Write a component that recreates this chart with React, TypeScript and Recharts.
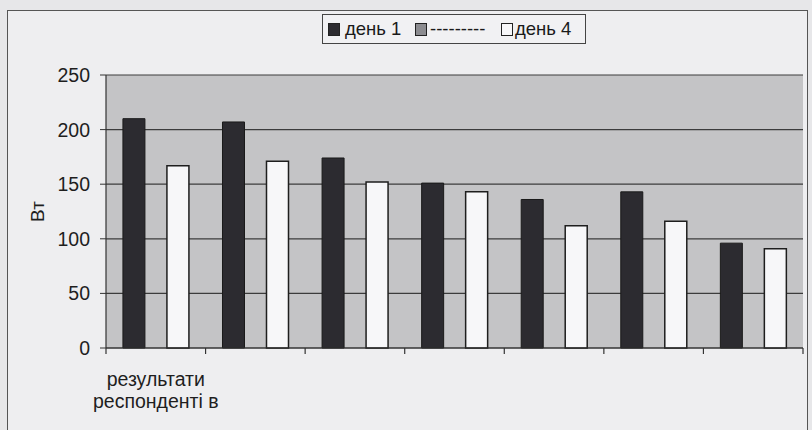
import React from "react";
import { BarChart, Bar, XAxis, YAxis, CartesianGrid } from "recharts";

const categories = ["результати\nреспонденті в", "", "", "", "", "", ""];
const day1 = [210, 207, 174, 151, 136, 143, 96];
const day2 = [null, null, null, null, null, null, null];
const day4 = [167, 171, 152, 143, 112, 116, 91];
const yTicks = [0, 50, 100, 150, 200, 250];
const seriesNames = ["день 1", "---------", "день 4"];
const boundaryTicks = [0, 0.5, 1, 1.5, 2, 2.5, 3, 3.5, 4, 4.5, 5, 5.5, 6, 6.5, 7];

const data = categories.map((c, i) => ({ cat: c, idx: i, d1: day1[i], d2: day2[i], d4: day4[i] }));

const FONT = "'Liberation Sans', Arial, sans-serif";

const BoundaryTick = (props: any) => {
  const { x, y, payload } = props;
  const v = payload.value as number;
  if (Number.isInteger(v)) {
    return <line x1={x} x2={x} y1={y} y2={y + 6} stroke="#333" strokeWidth={1.2} />;
  }
  const label = categories[Math.floor(v)] || "";
  if (!label) return <g />;
  const lines = label.split("\n");
  return (
    <text x={x} y={y} textAnchor="middle" fontSize={19.5} fontFamily={FONT} fill="#1e1e1e">
      {lines.map((l, i) => (
        <tspan key={i} x={x} dy={i === 0 ? 38 : 22}>
          {l}
        </tspan>
      ))}
    </text>
  );
};

const Legendish = () => {
  const items = [
    { sq: 5, tx: 22, fill: "#2c2b30" },
    { sq: 92, tx: 107, fill: "#8c8c90" },
    { sq: 178, tx: 192, fill: "#f7f7f9" },
  ];
  return (
    <div
      style={{
        position: "absolute",
        left: 322,
        top: 14,
        width: 264,
        height: 30,
        border: "1px solid #444",
        background: "#f1f1f3",
        boxSizing: "border-box",
        fontFamily: FONT,
        fontSize: 18.5,
        color: "#1a1a1a",
      }}
    >
      {items.map((it, i) => (
        <React.Fragment key={i}>
          <div
            style={{
              position: "absolute",
              left: it.sq,
              top: 8,
              width: 12,
              height: 13,
              background: it.fill,
              border: "1px solid #222",
              boxSizing: "border-box",
            }}
          />
          <div style={{ position: "absolute", left: it.tx, top: 3, lineHeight: "22px", whiteSpace: "nowrap" }}>
            {seriesNames[i]}
          </div>
        </React.Fragment>
      ))}
    </div>
  );
};

export default function App() {
  return (
    <div style={{ position: "absolute", left: 0, top: 0, width: 812, height: 430, background: "#e7e7e9", overflow: "hidden" }}>
      <div
        style={{
          position: "absolute",
          left: 7,
          top: 10,
          width: 801,
          height: 440,
          borderLeft: "1.5px solid #555",
          borderTop: "1.5px solid #555",
          borderRight: "1.5px solid #555",
          background: "#eeeef0",
          boxSizing: "border-box",
        }}
      />
      <div style={{ position: "absolute", left: 0, top: 0 }}>
        <BarChart
          width={812}
          height={430}
          data={data}
          margin={{ top: 75, right: 9, bottom: 22, left: 0 }}
          barCategoryGap="17%"
          barGap={0}
        >
          <CartesianGrid vertical={false} fill="#c4c4c6" fillOpacity={1} stroke="#3c3c3c" strokeWidth={1.2} />
          <XAxis dataKey="cat" hide height={0} />
          <XAxis
            xAxisId="n"
            dataKey="idx"
            type="number"
            domain={[0, categories.length]}
            ticks={boundaryTicks}
            allowDataOverflow
            interval={0}
            height={60}
            tickSize={0}
            tickMargin={0}
            tickLine={false}
            axisLine={{ stroke: "#333", strokeWidth: 1.2 }}
            tick={<BoundaryTick />}
          />
          <YAxis
            domain={[0, 250]}
            ticks={yTicks}
            width={106}
            interval={0}
            tickSize={6}
            tickMargin={10}
            axisLine={{ stroke: "#333", strokeWidth: 1.2 }}
            tickLine={{ stroke: "#333" }}
            tick={{ fontSize: 19.5, fontFamily: FONT, fill: "#1e1e1e" }}
            label={{
              content: (p: any) => {
                const vb = p.viewBox || { x: 0, y: 0, height: 0 };
                const cx = vb.x + 37;
                const cy = vb.y + vb.height / 2;
                return (
                  <text
                    x={cx}
                    y={cy}
                    transform={`rotate(-90 ${cx} ${cy})`}
                    textAnchor="middle"
                    dominantBaseline="central"
                    fontSize={19}
                    fontFamily={FONT}
                    fill="#1e1e1e"
                  >
                    Вт
                  </text>
                );
              },
            }}
          />
          <YAxis
            yAxisId="r"
            orientation="right"
            domain={[0, 250]}
            width={0}
            tick={false}
            tickLine={false}
            axisLine={{ stroke: "#444", strokeWidth: 1.2 }}
          />
          <Bar dataKey="d1" name={seriesNames[0]} fill="#2c2b30" stroke="#1a1a1a" strokeWidth={1} isAnimationActive={false} />
          <Bar dataKey="d2" name={seriesNames[1]} fill="#8c8c90" isAnimationActive={false} />
          <Bar dataKey="d4" name={seriesNames[2]} fill="#f7f7f9" stroke="#1e1e1e" strokeWidth={1.5} isAnimationActive={false} />
        </BarChart>
      </div>
      <Legendish />
    </div>
  );
}
